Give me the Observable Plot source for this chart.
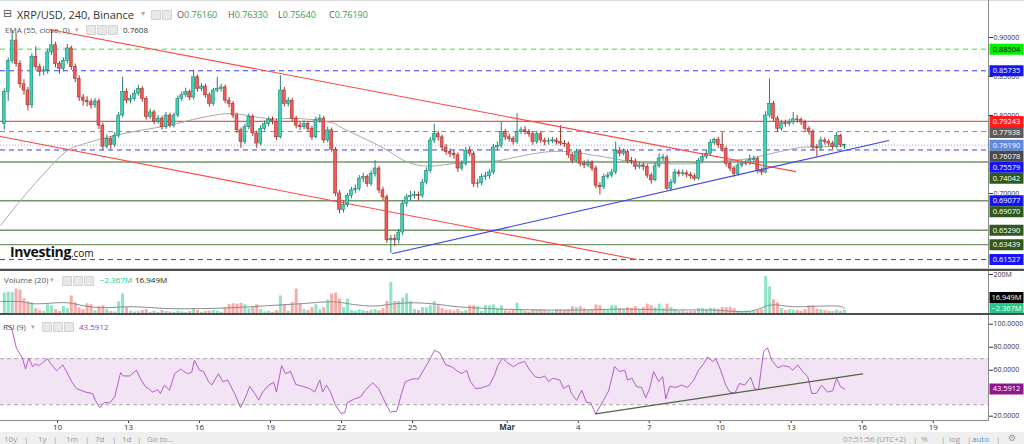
<!DOCTYPE html>
<html>
<head>
<meta charset="utf-8">
<script src="https://cdn.jsdelivr.net/npm/d3@7"></script>
<script src="https://cdn.jsdelivr.net/npm/@observablehq/plot@0.6"></script>
<style>
html,body{margin:0;padding:0;background:#fff;}
#root{position:relative;width:1024px;height:444px;overflow:hidden;background:#fff;font-family:"Open Sans",sans-serif;}
.pane{position:absolute;left:0;width:1024px;overflow:hidden;}
.t{position:absolute;white-space:nowrap;line-height:1;}
.ico{position:absolute;width:8px;height:8px;background:#e8e8e8;border:1px solid #d2d2d2;border-radius:1px;}
.ln{position:absolute;}
</style>
</head>
<body>
<div id="root"></div>
<script>
// ---------------- DATA ----------------
const firstBar = Date.UTC(2018, 1, 7, 16);      // first visible 4h candle (UTC)
const barHours = 4;
const firstOpen = 0.789;
const lastOHLC = [0.76160, 0.76330, 0.75640, 0.76190];

const closes = [
 .830,.870,.896,.866,.840,.832,.813,.875,.862,.856,
 .858,.881,.890,.866,.860,.870,.886,.862,.847,.823,
 .819,.817,.813,.818,.787,.760,.770,.762,.774,.800,
 .830,.819,.821,.828,.834,.821,.798,.804,.792,.796,
 .785,.800,.787,.800,.821,.826,.830,.823,.849,.834,
 .837,.826,.815,.832,.834,.836,.819,.815,.800,.781,
 .766,.785,.798,.777,.764,.783,.789,.794,.792,.772,
 .832,.815,.819,.796,.787,.785,.789,.783,.772,.794,
 .796,.768,.781,.756,.700,.679,.685,.697,.704,.706,
 .719,.721,.712,.725,.732,.704,.695,.640,.642,.640,
 .650,.687,.695,.697,.698,.697,.714,.729,.768,.776,
 .772,.759,.753,.751,.749,.732,.738,.755,.751,.712,
 .713,.721,.722,.727,.759,.761,.779,.772,.770,.766,
 .779,.781,.779,.776,.766,.776,.768,.766,.767,.768,
 .766,.764,.763,.749,.742,.753,.738,.736,.739,.732,
 .710,.708,.721,.723,.727,.755,.751,.753,.742,.741,
 .734,.736,.734,.723,.717,.735,.745,.746,.706,.714,
 .727,.725,.726,.724,.722,.719,.742,.747,.751,.765,
 .769,.762,.757,.738,.732,.725,.736,.738,.739,.743,
 .744,.729,.727,.800,.815,.796,.783,.790,.789,.791,
 .795,.794,.791,.783,.779,.759,.758,.768,.766,.764,
 .760,.774,.762,.7619];

const highs = [
 .834,.874,.909,.905,.870,.846,.836,.879,.888,.866,
 .863,.885,.909,.894,.869,.874,.891,.889,.866,.851,
 .827,.824,.821,.822,.821,.790,.775,.773,.778,.804,
 .849,.834,.826,.832,.839,.837,.824,.808,.807,.800,
 .799,.804,.803,.803,.825,.830,.835,.833,.858,.852,
 .841,.840,.829,.835,.849,.840,.839,.823,.818,.803,
 .784,.789,.802,.801,.780,.787,.793,.798,.798,.795,
 .851,.836,.823,.822,.799,.791,.793,.792,.786,.798,
 .801,.799,.785,.784,.759,.704,.690,.700,.708,.711,
 .723,.726,.724,.729,.742,.735,.708,.698,.646,.647,
 .654,.691,.699,.703,.703,.702,.718,.733,.772,.789,
 .780,.775,.763,.757,.755,.752,.742,.759,.760,.754,
 .718,.725,.727,.731,.763,.766,.791,.782,.776,.773,
 .802,.785,.786,.782,.779,.780,.779,.771,.771,.772,
 .771,.787,.768,.766,.752,.757,.756,.742,.743,.742,
 .735,.714,.725,.727,.731,.766,.759,.757,.756,.746,
 .744,.740,.739,.737,.726,.739,.751,.750,.749,.718,
 .731,.730,.730,.729,.727,.725,.745,.751,.755,.769,
 .771,.772,.778,.760,.741,.735,.740,.742,.743,.749,
 .748,.747,.733,.805,.847,.818,.799,.794,.794,.795,
 .804,.800,.797,.794,.786,.782,.763,.772,.771,.769,
 .767,.778,.776,.7633];

const lows = [
 .781,.818,.866,.862,.835,.826,.806,.809,.858,.850,
 .851,.853,.877,.861,.853,.856,.866,.858,.842,.818,
 .812,.811,.808,.809,.782,.755,.757,.756,.759,.771,
 .797,.815,.815,.818,.825,.817,.794,.795,.788,.789,
 .781,.782,.784,.784,.797,.818,.823,.819,.820,.830,
 .831,.822,.811,.812,.829,.830,.815,.810,.796,.777,
 .758,.763,.782,.773,.758,.761,.780,.786,.788,.768,
 .770,.811,.811,.792,.783,.781,.782,.779,.768,.770,
 .790,.764,.765,.753,.696,.674,.675,.682,.693,.700,
 .703,.714,.708,.709,.721,.700,.691,.636,.623,.632,
 .635,.646,.683,.690,.693,.690,.694,.711,.726,.764,
 .767,.755,.749,.746,.744,.727,.729,.735,.747,.708,
 .707,.710,.717,.718,.724,.755,.758,.768,.766,.762,
 .763,.776,.775,.772,.762,.763,.764,.761,.762,.764,
 .762,.761,.759,.745,.738,.739,.734,.732,.733,.728,
 .706,.698,.705,.718,.720,.724,.747,.748,.738,.737,
 .730,.731,.729,.719,.712,.715,.732,.741,.704,.703,
 .711,.721,.722,.720,.718,.716,.717,.739,.744,.748,
 .762,.758,.753,.734,.728,.721,.722,.733,.735,.736,
 .740,.725,.723,.725,.797,.792,.779,.780,.785,.786,
 .788,.790,.787,.779,.775,.755,.747,.755,.762,.760,
 .756,.757,.759,.7564];

// volume in millions
const volumes = [
 105,110,108,125,120,75,60,55,25,15,
 10,45,40,20,10,35,25,90,55,30,
 20,50,45,15,35,40,20,10,8,60,
 100,30,12,8,10,15,20,6,12,5,
 15,10,8,6,12,8,5,10,25,15,
 6,10,12,15,12,6,30,45,50,48,
 52,45,25,30,45,20,8,12,6,15,
 90,45,12,55,125,50,20,15,30,45,
 20,30,70,100,105,74,30,74,15,12,
 18,15,12,18,20,15,25,62,160,62,
 62,79,100,62,20,15,30,30,40,62,
 40,25,18,18,12,20,10,15,40,40,
 35,12,42,40,44,25,40,15,12,20,
 53,20,12,8,20,18,20,15,10,8,
 20,18,15,20,35,30,35,25,15,20,
 44,40,20,15,40,40,25,20,30,26,
 35,20,30,48,40,30,48,25,48,30,
 20,10,12,8,10,12,26,25,20,26,
 25,22,30,30,32,25,12,8,12,10,
 12,15,20,190,137,70,55,25,15,20,
 18,15,12,20,40,40,23,20,15,12,
 10,17,12,16.949];
const volumeLast = 16.949;
const volumeDelta = -2.367;

// EMA(55) read at bar positions
const emaBars = [-0.9,4.1,9.2,16,21.1,27.7,34.6,41.4,49.8,57.4,66.8,75.1,83.5,85.3,96.2,102.3,107.3,113.2,119,125.1,129.1,134.2,139.3,144.3,149.4,154.5,159.6,169.7,174,178.3,183.4,189.2,192.5,196.8,201.9,207,212.8];
const emaValues = [.659,.691,.7205,.755,.765,.774,.781,.787,.797,.8026,.796,.796,.790,.785,.758,.740,.735,.738,.741,.742,.746,.751,.754,.753,.749,.745,.740,.738,.738,.740,.742,.745,.749,.754,.759,.760,.7608];
const emaLast = 0.76078;

// Volume MA(20)
const volMaBars = [-0.9,4,7.4,16,20,24.4,32.8,41.4,49.8,58.1,66.8,75.1,83.5,89,94,99,104,109.4,114.7,120,125.3,136,146.6,157.3,168,178.6,189.2,194.5,199.9,212.3,213];
const volMaValues = [61,61,50,55,40,30,35,25,25,30,40,50,60,45,38,50,55,48,35,28,23,18,18,23,18,18,12,44,35,35,25];

// RSI(9)
const rsiBars = [0.5,1.85,3.1,4.6,5.4,6.2,7.2,7.9,8.7,9.5,11,11.7,13.3,14.8,15.8,17.1,18.3,20.6,22.4,23.1,24.2,25.4,26.7,28,29.5,30.2,31.8,33.5,34.6,35.8,36.6,37.6,38.9,39.6,40.6,41.9,43.2,44.7,45.5,46.5,47.5,48.2,49.5,50.5,51.8,52.6,54.3,55.4,56.6,58.4,59.9,61.2,62.2,63.5,64.5,65.5,67,68.3,69,70.3,71.3,72.6,73.9,75.6,77.4,78.7,80,80.7,81.7,82.7,84,85.3,86.3,87,88.8,90.3,91.6,93.4,94.9,95.9,96.9,97.9,99.5,100.7,101.7,103.5,105,106.6,107.8,109.1,110.4,111.9,113.4,114.7,116,117.2,118.2,119.5,121,123,124.3,125.1,126.3,127.4,129.1,130.4,131.9,133.2,134.7,136,137,138,139,140.8,141.8,143.1,143.8,145.1,146.4,147.6,148.7,149.9,151.9,153.2,154.7,156,157.3,158,159.1,160.3,161.6,162.6,163.6,164.6,165.9,166.9,167.7,168.7,170.2,171.7,173.2,174.8,176,177.1,178.3,179.6,180.4,181.6,182.9,183.9,185.2,186.4,187.7,189.2,190.2,191.2,192.5,193.5,194.5,196.1,197.3,198.9,199.9,201.1,202.4,203.7,204.7,205.9,207.2,208.7,210,211,212,213];
const rsiValues = [99,97,79,70.6,61,70.6,63,65.6,64,66,70,66,59.4,64.7,58.8,50,44,41,39.7,33.8,27.4,32,31.5,36.8,58,55,55,60,52,45.6,44,41,43,39.7,47,42.6,57,61,59,57,58,68.5,60,59,50,47,57,50,51.5,39.7,27.4,36.8,46,39.7,34,41,47,49.4,41,64,57,59,47.6,46,44,41,51.5,41,47,41,29.4,22.7,22.7,32,35,36.8,43,49,44,36.8,29.4,23.5,24.4,39.7,50,52.4,52.4,61.8,69,77.4,75,64.7,63,59.7,57,60,50,44,44.7,47,55.9,64,70.6,66.8,63,66,67.6,60,54,53.5,55,50,53,51.5,44,47,39.7,33.8,42.6,32,31.5,22,33.8,42,63,58.8,60,51.5,53,45.6,45,36,44,58.8,50,54.4,35,46,45,47,45,51.5,60,64.7,71.5,67.6,69.7,60,47,41,40,48.5,47,54,44,43,76.5,79.4,69,62,64,63,60,64.7,58.8,54.4,39.7,40,47,41,42,53,45.6,43.59];
const rsiLast = 43.5912;
const rsiBand = [30, 70];

// drawn trend lines (bar position, value)
const upperChannelBars = [11.7, 200.6], upperChannelPrices = [0.910, 0.728];
const lowerChannelBars = [-0.94, 160.3], lowerChannelPrices = [0.773, 0.6154];
const supportBars = [98.5, 224.2], supportPrices = [0.623, 0.768];
const rsiTrendBars = [149.9, 217.6], rsiTrendValues = [22, 56.8];

// horizontal levels
const levelPrices = [0.88504, 0.85735, 0.79243, 0.77938, 0.75579, 0.74042, 0.69070, 0.65290, 0.63439, 0.61527];
const levelKinds  = ["greenDash","blueDash","red","grayDash","blueDash","green","green","green","green","blueDash"];
const alertPrice = 0.69077;

// axes
const priceTicks = [0.65, 0.70, 0.75, 0.80, 0.85, 0.90];
const volTicks = [200];
const rsiTicks = [20, 40, 60, 80, 100];
const xTickDates = ["2018-02-10","2018-02-13","2018-02-16","2018-02-19","2018-02-22","2018-02-25","2018-03-01","2018-03-04","2018-03-07","2018-03-10","2018-03-13","2018-03-16","2018-03-19"];
const xTickLabels = ["10","13","16","19","22","25","Mar","4","7","10","13","16","19"];

// ---------------- BUILD ----------------
const HOUR = 3600e3;
const barTime = (b, offH = barHours / 2) => new Date(firstBar + b * barHours * HOUR + offH * HOUR);
const xDomain = [new Date(Date.UTC(2018, 1, 7, 14, 12)), new Date(Date.UTC(2018, 2, 21, 8, 0))];
const W = 1024, MR = 36;
const priceH = 268, priceDomain = [0.60385, 0.94744];
const volH = 44, volDomain = [0, 220.5];
const rsiH = 104, rsiAxisH = 12, rsiDomain = [16.26, 106.7];
const f5 = d3.format(".5f"), f4 = d3.format(".4f"), f3 = d3.format(".3f");

const n = Math.min(closes.length, highs.length, lows.length, volumes.length);
const candles = [];
for (let i = 0; i < n; i++) {
  const o = i === n - 1 ? lastOHLC[0] : (i ? closes[i - 1] : firstOpen);
  const c = closes[i];
  candles.push({i, o, c, h: highs[i], l: lows[i], v: volumes[i], up: c >= o});
}
const UP = {fill: "#37d4b7", line: "#26806f", vol: "#90e3c6"};
const DN = {fill: "#f45b55", line: "#9e3430", vol: "#f6aca8"};

const tagSymbol = {draw(ctx) { ctx.rect(-17, -5.5, 34, 11); }};
function tagMarks(tags) {
  return [
    Plot.dot(tags, {y: "ay", frameAnchor: "right", dx: 18, symbol: tagSymbol, fill: "bg", stroke: null}),
    Plot.text(tags, {y: "ay", frameAnchor: "right", dx: 18, textAnchor: "middle", text: "text", fill: "fg", fontSize: 7.5})
  ];
}
function stackDown(tags, scale, gap) {
  const s = tags.slice().sort((a, b) => b.v - a.v);
  let prev = -Infinity;
  for (const d of s) { let py = scale(d.v); if (py < prev + gap) py = prev + gap; d.ay = scale.invert(py); prev = py; }
  return s;
}
// drop axis ticks that sit completely under a value tag
const visibleTicks = (ticks, scale, tags) => ticks.filter(t => tags.every(g => Math.abs(scale(t) - scale(g.ay)) >= 5));

const styleBase = {fontFamily: "Open Sans, sans-serif", fontSize: "7px", color: "#333", background: "transparent", overflow: "visible"};

// ---- price pane ----
const levelStyle = {
  greenDash: {stroke: "#41dc41", dash: "5,4", w: 1, bg: "#00f000", fg: "#000"},
  blueDash:  {stroke: "#3a3af2", dash: "5,4", w: 1, bg: "#1414f5", fg: "#fff"},
  red:       {stroke: "#ff4d4d", dash: null, w: 1.2, bg: "#ff1f1f", fg: "#fff"},
  grayDash:  {stroke: "#8a8a8a", dash: "5,4", w: 1, bg: "#5a5a5a", fg: "#fff"},
  green:     {stroke: "#75966a", dash: null, w: 1.3, bg: "#2f5a1e", fg: "#fff"}
};
const levels = levelPrices.map((v, i) => ({v, kind: levelKinds[i]}));
const pScale = d3.scaleLinear().domain(priceDomain).range([priceH, 0]);
const priceTags = stackDown([
  ...levels.map(d => ({v: d.v, text: f5(d.v), bg: levelStyle[d.kind].bg, fg: levelStyle[d.kind].fg})),
  {v: lastOHLC[3], text: f5(lastOHLC[3]), bg: "#5f88e0", fg: "#fff"},
  {v: emaLast, text: f5(emaLast), bg: "#4a4a4a", fg: "#fff"},
  {v: alertPrice, text: f5(alertPrice), bg: "#1414f5", fg: "#fff"}
], pScale, 11);

const seg = (bars, vals) => bars.map((b, k) => ({t: barTime(b), v: vals[k]}));
const ema = seg(emaBars, emaValues);

const levelMarks = Object.keys(levelStyle).map(k => Plot.ruleY(levels.filter(d => d.kind === k), {
  y: "v", stroke: levelStyle[k].stroke, strokeWidth: levelStyle[k].w, strokeDasharray: levelStyle[k].dash || undefined
}));

const pricePlot = Plot.plot({
  width: W, height: priceH, marginLeft: 0, marginRight: MR, marginTop: 0, marginBottom: 0,
  x: {type: "utc", domain: xDomain, axis: null},
  y: {domain: priceDomain, axis: "right", ticks: visibleTicks(priceTicks, pScale, priceTags), tickFormat: f5, tickSize: 4, tickPadding: 1, label: null},
  color: {type: "identity"},
  style: styleBase,
  marks: [
    ...levelMarks,
    Plot.ruleY([lastOHLC[3]], {y: d => d, stroke: "#8ea9ee", strokeDasharray: "1,2"}),
    Plot.line(ema, {x: "t", y: "v", stroke: "#a9a9a9", strokeWidth: 1, curve: "catmull-rom"}),
    Plot.ruleX(candles, {x: d => barTime(d.i), y1: "l", y2: "h", stroke: d => d.up ? UP.line : DN.line, strokeWidth: 1}),
    Plot.rect(candles, {
      x1: d => barTime(d.i, 0.55), x2: d => barTime(d.i, 3.45),
      y1: "o", y2: d => Math.abs(d.c - d.o) < 0.0005 ? d.o + (d.up ? 0.0006 : -0.0006) : d.c,
      fill: d => d.up ? UP.fill : DN.fill, stroke: d => d.up ? UP.line : DN.line, strokeWidth: 0.6
    }),
    Plot.line(seg(upperChannelBars, upperChannelPrices), {x: "t", y: "v", stroke: "#ff4747", strokeWidth: 1.1}),
    Plot.line(seg(lowerChannelBars, lowerChannelPrices), {x: "t", y: "v", stroke: "#ff4747", strokeWidth: 1.1}),
    Plot.line(seg(supportBars, supportPrices), {x: "t", y: "v", stroke: "#3d43e6", strokeWidth: 1.1}),
    ...tagMarks(priceTags)
  ]
});

// ---- volume pane ----
const volMa = seg(volMaBars, volMaValues);
const vScale = d3.scaleLinear().domain(volDomain).range([volH - 1, 0]);
const greenTag = {v: volMaValues[volMaValues.length - 1], text: f3(volumeDelta) + "M", bg: "#22c98a", fg: "#fff"};
greenTag.ay = greenTag.v;
const blackTag = {v: volumeLast, text: f3(volumeLast) + "M", bg: "#000", fg: "#fff"};
blackTag.ay = vScale.invert(vScale(greenTag.v) - 11);
const volPlot = Plot.plot({
  width: W, height: volH, marginLeft: 0, marginRight: MR, marginTop: 0, marginBottom: 1,
  x: {type: "utc", domain: xDomain, axis: null},
  y: {domain: volDomain, axis: "right", ticks: volTicks, tickFormat: d => d + "M", tickSize: 4, tickPadding: 1, label: null},
  color: {type: "identity"},
  style: styleBase,
  marks: [
    Plot.ruleX(candles, {x: d => barTime(d.i), y1: 0, y2: "v", stroke: d => d.up ? UP.vol : DN.vol, strokeWidth: 3}),
    Plot.line(volMa, {x: "t", y: "v", stroke: "#8c8c8c", strokeWidth: 1, curve: "catmull-rom"}),
    ...tagMarks([greenTag, blackTag])
  ]
});

// ---- RSI pane (with time axis) ----
const rsi = seg(rsiBars.slice(0, rsiValues.length), rsiValues);
const xTicks = xTickDates.map(s => new Date(s + "T00:00:00Z"));
const rsiTag = [{v: rsiLast, ay: rsiLast, text: f4(rsiLast), bg: "#8d178d", fg: "#fff"}];
const rScale = d3.scaleLinear().domain(rsiDomain).range([rsiH, 0]);
const rsiPlot = Plot.plot({
  width: W, height: rsiH + rsiAxisH, marginLeft: 0, marginRight: MR, marginTop: 0, marginBottom: rsiAxisH,
  x: {type: "utc", domain: xDomain, ticks: xTicks, tickFormat: d => xTickLabels[xTicks.findIndex(t => +t === +d)], tickSize: 3, tickPadding: 1, label: null, fontSize: 8},
  y: {domain: rsiDomain, axis: "right", ticks: visibleTicks(rsiTicks, rScale, rsiTag), tickFormat: f4, tickSize: 4, tickPadding: 1, label: null},
  color: {type: "identity"},
  style: styleBase,
  marks: [
    Plot.rect([rsiBand], {x1: () => xDomain[0], x2: () => xDomain[1], y1: d => d[0], y2: d => d[1], fill: "#f2e4f4"}),
    Plot.ruleY(rsiBand, {y: d => d, stroke: "#a8a8a8", strokeDasharray: "4,3"}),
    Plot.line(rsi, {x: "t", y: "v", stroke: "#b35ec6", strokeWidth: 1}),
    Plot.line(seg(rsiTrendBars, rsiTrendValues), {x: "t", y: "v", stroke: "#56623f", strokeWidth: 1.2}),
    ...tagMarks(rsiTag)
  ]
});
d3.select(rsiPlot).selectAll("text").filter(function () { return this.textContent === "Mar"; }).attr("font-weight", "bold");
d3.select(rsiPlot).selectAll("g[aria-label='x-axis'] text, g[aria-label='x-axis tick label'] text").attr("font-size", 8);

// ---------------- LAYOUT ----------------
const root = document.getElementById("root");
function pane(top, height, node) {
  const d = document.createElement("div"); d.className = "pane";
  d.style.top = top + "px"; d.style.height = height + "px"; d.appendChild(node); root.appendChild(d);
}
function box(css) { const d = document.createElement("div"); d.className = "ln"; d.style.cssText = css; root.appendChild(d); return d; }
function txt(left, top, html, css) {
  const d = document.createElement("div"); d.className = "t";
  d.style.cssText = `left:${left}px;top:${top}px;` + (css || ""); d.innerHTML = html; root.appendChild(d); return d;
}
function icons(left, top, count) {
  for (let k = 0; k < count; k++) { const d = document.createElement("div"); d.className = "ico"; d.style.left = (left + k * 11) + "px"; d.style.top = top + "px"; root.appendChild(d); }
}

pane(0, priceH, pricePlot);
pane(270, volH, volPlot);
pane(316, rsiH + rsiAxisH, rsiPlot);

// separators and axis lines
box("left:0;top:0;width:1024px;height:1px;background:#dcdcdc");
box("left:988px;top:0;width:1px;height:421px;background:#8c8c8c");
box("left:0;top:268px;width:1024px;height:1px;background:#d0d0d0");
box("left:0;top:269px;width:1024px;height:2px;background:#4d4d4d");
box("left:0;top:313px;width:1024px;height:2px;background:#4d4d4d");
box("left:0;top:420px;width:989px;height:1px;background:#8c8c8c");
box("left:0;top:432px;width:1024px;height:12px;background:#efefef");

// header
txt(3, 8, "&#8863;", "font-size:11px;color:#555;font-family:'DejaVu Sans'");
txt(17, 8.5, "XRP/USD, 240, Binance", "font-size:11px;color:#333");
txt(141, 10, "&#9662;", "font-size:8px;color:#aaa;font-family:'DejaVu Sans'");
icons(151, 10, 2);
const ohlcNames = ["O", "H", "L", "C"], ohlcLeft = [177, 228, 278, 329];
lastOHLC.forEach((v, k) => txt(ohlcLeft[k], 10.3, `<span style="color:#555">${ohlcNames[k]}</span><span style="color:#3b9b4c">${f5(v)}</span>`, "font-size:9px"));
txt(5, 26, "EMA (55, close, 0)", "font-size:8px;color:#555");
txt(75, 27, "&#9662;", "font-size:7px;color:#aaa;font-family:'DejaVu Sans'");
icons(86, 25, 3);
txt(123, 26, f4(emaLast), "font-size:8px;color:#333");

// watermark
txt(10, 245, "Investing<span style=\"font-weight:400;font-size:10px;letter-spacing:0\">.com</span>", "font-size:14px;font-weight:700;color:#111;letter-spacing:-0.4px");

// volume legend
txt(4, 276.3, "Volume (20)", "font-size:8px;color:#555");
txt(50, 277.3, "&#9662;", "font-size:7px;color:#aaa;font-family:'DejaVu Sans'");
icons(62, 275.5, 3);
txt(100, 276.3, f3(volumeDelta) + "M", "font-size:8px;color:#2ec08c");
txt(135, 276.3, f3(volumeLast) + "M", "font-size:8px;color:#222");

// RSI legend
txt(3, 322.5, "RSI (9)", "font-size:8px;color:#555");
txt(31, 323.5, "&#9662;", "font-size:7px;color:#aaa;font-family:'DejaVu Sans'");
icons(42, 321.5, 3);
txt(79, 322.5, f4(rsiLast), "font-size:8px;color:#9b3fae");

// bottom toolbar
const tb = "font-size:8px;color:#9a9a9a";
[["10y",4],["|",24],["1y",38],["|",53],["1m",66],["|",85],["7d",95],["|",112],["1d",122],["|",137],["Go to...",147]].forEach(([s,x]) => txt(x, 435, s, tb));
[["07:51:56 (UTC+2)",843],["|",913],["%",921],["|",941],["log",949],["|",967],["|",996]].forEach(([s,x]) => txt(x, 435, s, tb));
txt(972, 435, "auto", "font-size:8px;color:#3aa0e4");
txt(1008, 433.5, "&#9881;", "font-size:9px;color:#999;font-family:'DejaVu Sans'");
</script>
</body>
</html>
